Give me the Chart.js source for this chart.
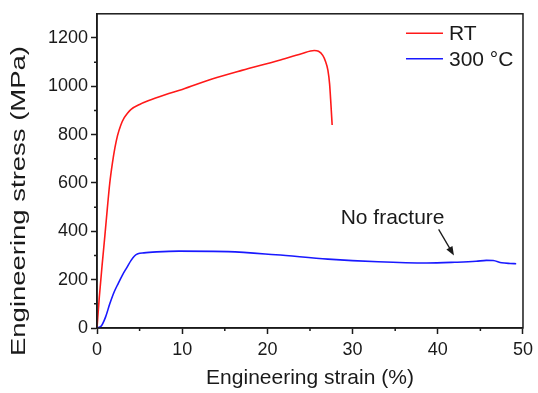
<!DOCTYPE html>
<html>
<head>
<meta charset="utf-8">
<script src="https://cdn.jsdelivr.net/npm/chart.js@4/dist/chart.umd.min.js"></script>
<style>
  body { margin: 0; background: #fff; }
  #wrap { width: 538px; height: 393px; }
</style>
</head>
<body>
<div id="wrap"><canvas id="stressStrain" width="538" height="393"></canvas></div>
<script>
/* tensile curves: strain (%) vs stress (MPa) */
var rtStrain = [0, 0.27, 0.6, 0.93, 1.2, 1.5, 1.8, 2.1, 2.4, 2.8, 3.2, 3.6, 4.0, 5.0, 6.0, 8.0, 10.0, 13.5, 17.0, 21.3, 24.0, 25.5, 26.0, 26.5, 26.8, 27.1, 27.3, 27.45, 27.6];
var rtStress = [0, 127, 260, 384, 490, 600, 680, 745, 795, 840, 870, 890, 905, 925, 940, 965, 987, 1030, 1066, 1107, 1135, 1148, 1145, 1128, 1105, 1067, 1010, 930, 840];

var hotStrain = [0, 0.5, 1.0, 1.5, 2.0, 2.5, 3.0, 3.5, 4.0, 4.4, 4.8, 5.5, 7.0, 9.6, 15.4, 21.0, 27.1, 33.0, 38.7, 42.0, 44.5, 45.7, 46.5, 47.5, 48.5, 49.2];
var hotStress = [0, 8, 45, 100, 148, 185, 220, 250, 280, 298, 307, 311, 315, 318, 316, 303, 285, 274, 269, 272, 276, 280, 279, 270, 267, 266];

var xTicks = [0, 10, 20, 30, 40, 50];
var xMinor = [5, 15, 25, 35, 45];
var yTicks = [0, 200, 400, 600, 800, 1000, 1200];
var yMinor = [100, 300, 500, 700, 900, 1100];

var seriesLabels = ["RT", "300 \u00b0C"];
var noteText = "No fracture";
var notePos = { x: 28.6, y: 430 };
var arrowFrom = { x: 40.1, y: 408 };
var arrowTo = { x: 41.9, y: 300 };

var FONT = "Arial, 'Liberation Sans', sans-serif";
var INK = "#1a1a1a";

function toPoints(xs, ys) {
    var pts = [];
    for (var i = 0; i < xs.length; i++) {
        pts.push({ x: xs[i], y: ys[i] });
    }
    return pts;
}

// frame, minor ticks, legend, y title and the arrow note
var decorations = {
    id: "decorations",
    afterDraw: function (chart) {
        var ctx = chart.ctx;
        var area = chart.chartArea;
        var xs = chart.scales.x;
        var ys = chart.scales.y;

        ctx.save();
        ctx.strokeStyle = INK;
        ctx.lineWidth = 1.5;
        ctx.strokeRect(area.left, area.top, area.right - area.left, area.bottom - area.top);

        // minor ticks
        ctx.beginPath();
        xMinor.forEach(function (v) {
            var px = xs.getPixelForValue(v);
            ctx.moveTo(px, area.bottom);
            ctx.lineTo(px, area.bottom + 3);
        });
        yMinor.forEach(function (v) {
            var py = ys.getPixelForValue(v);
            ctx.moveTo(area.left, py);
            ctx.lineTo(area.left - 3, py);
        });
        ctx.stroke();

        // legend
        ctx.font = "21px " + FONT;
        ctx.textBaseline = "middle";
        ctx.textAlign = "left";
        chart.data.datasets.forEach(function (ds, i) {
            var ly = area.top + 19.5 + i * 25.5;
            ctx.strokeStyle = ds.borderColor;
            ctx.lineWidth = 1.5;
            ctx.beginPath();
            ctx.moveTo(area.right - 117, ly);
            ctx.lineTo(area.right - 80, ly);
            ctx.stroke();
            ctx.fillStyle = INK;
            ctx.fillText(ds.label, area.right - 74, ly + 1);
        });

        // note with arrow
        ctx.fillStyle = INK;
        ctx.textBaseline = "alphabetic";
        ctx.fillText(noteText, xs.getPixelForValue(notePos.x), ys.getPixelForValue(notePos.y));

        var x0 = xs.getPixelForValue(arrowFrom.x), y0 = ys.getPixelForValue(arrowFrom.y);
        var x1 = xs.getPixelForValue(arrowTo.x), y1 = ys.getPixelForValue(arrowTo.y);
        var ang = Math.atan2(y1 - y0, x1 - x0);
        ctx.strokeStyle = INK;
        ctx.lineWidth = 1.3;
        ctx.beginPath();
        ctx.moveTo(x0, y0);
        ctx.lineTo(x1 - 6 * Math.cos(ang), y1 - 6 * Math.sin(ang));
        ctx.stroke();
        ctx.beginPath();
        ctx.moveTo(x1, y1);
        ctx.lineTo(x1 - 9 * Math.cos(ang) + 3.5 * Math.sin(ang), y1 - 9 * Math.sin(ang) - 3.5 * Math.cos(ang));
        ctx.lineTo(x1 - 9 * Math.cos(ang) - 3.5 * Math.sin(ang), y1 - 9 * Math.sin(ang) + 3.5 * Math.cos(ang));
        ctx.closePath();
        ctx.fill();

        // y axis title, stretched along its length
        var title = "Engineering stress (MPa)";
        ctx.font = "21px " + FONT;
        ctx.textAlign = "center";
        ctx.textBaseline = "middle";
        var w = ctx.measureText(title).width;
        ctx.translate(19, 201);
        ctx.rotate(-Math.PI / 2);
        ctx.scale(310 / w, 1);
        ctx.fillText(title, 0, 0);
        ctx.restore();
    }
};

var canvasElement = document.getElementById("stressStrain");

var config = {
    type: "line",
    data: {
        datasets: [
            {
                label: seriesLabels[0],
                data: toPoints(rtStrain, rtStress),
                borderColor: "rgb(255, 25, 25)",
                borderWidth: 1.6,
                pointRadius: 0,
                cubicInterpolationMode: "monotone"
            },
            {
                label: seriesLabels[1],
                data: toPoints(hotStrain, hotStress),
                borderColor: "rgb(25, 25, 255)",
                borderWidth: 1.6,
                pointRadius: 0,
                cubicInterpolationMode: "monotone"
            }
        ]
    },
    options: {
        responsive: false,
        animation: false,
        layout: { padding: { top: 8, right: 11, left: 0, bottom: 0 } },
        plugins: {
            legend: { display: false },
            tooltip: { enabled: false }
        },
        scales: {
            x: {
                type: "linear",
                min: 0,
                max: 50,
                afterBuildTicks: function (scale) {
                    scale.ticks = xTicks.map(function (v) { return { value: v }; });
                },
                afterFit: function (scale) { scale.height = 65; },
                grid: { drawOnChartArea: false, tickLength: 6, tickWidth: 1.5, tickColor: INK },
                border: { color: INK, width: 1.5 },
                ticks: {
                    color: INK,
                    font: { family: FONT, size: 18 },
                    padding: 5,
                    maxRotation: 0,
                    callback: function (v) { return String(v); }
                },
                title: {
                    display: true,
                    text: "Engineering strain (%)",
                    color: INK,
                    font: { family: FONT, size: 21 },
                    padding: { top: 0, bottom: 2 }
                }
            },
            y: {
                type: "linear",
                min: 0,
                max: 1300,
                afterBuildTicks: function (scale) {
                    scale.ticks = yTicks.map(function (v) { return { value: v }; });
                },
                afterFit: function (scale) { scale.width = 97; },
                grid: { drawOnChartArea: false, tickLength: 6, tickWidth: 1.5, tickColor: INK },
                border: { color: INK, width: 1.5 },
                ticks: {
                    color: INK,
                    font: { family: FONT, size: 18 },
                    padding: 3,
                    callback: function (v) { return String(v); }
                }
            }
        }
    },
    plugins: [decorations]
};

var chart = new Chart(canvasElement, config);
</script>
</body>
</html>
